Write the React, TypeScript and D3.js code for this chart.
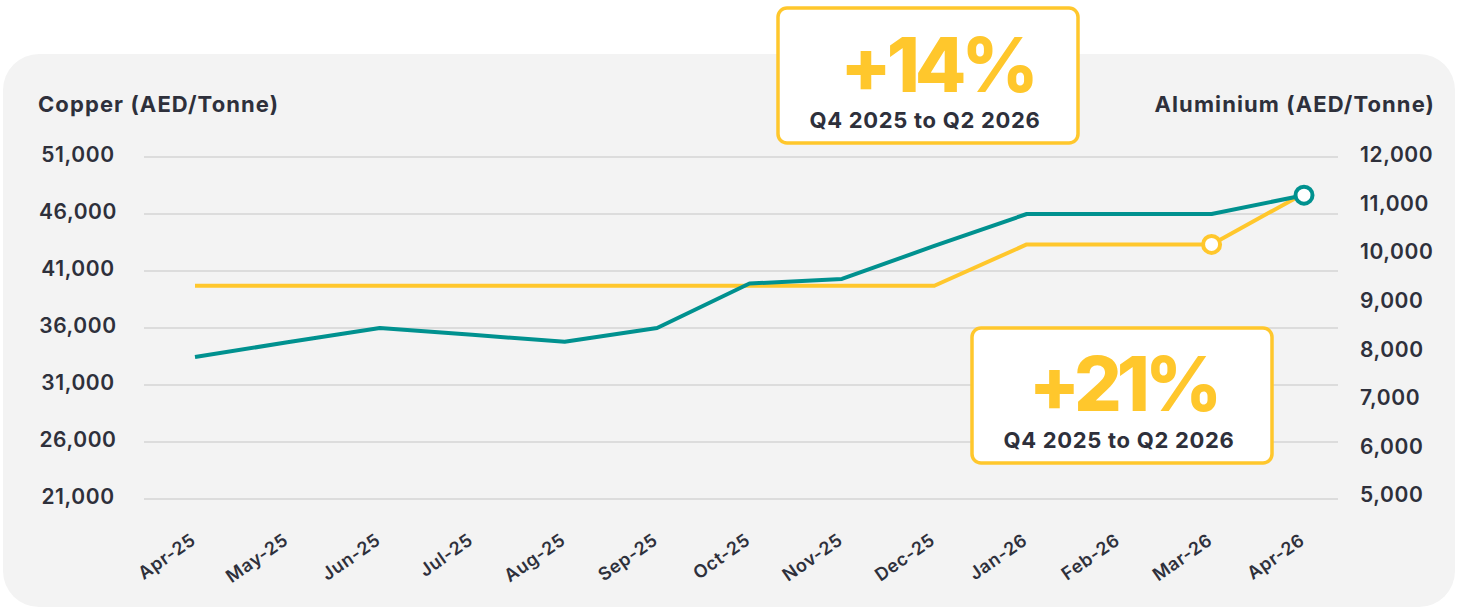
import React from "react";
import * as d3 from "d3";

const months = ["Apr-25","May-25","Jun-25","Jul-25","Aug-25","Sep-25","Oct-25","Nov-25","Dec-25","Jan-26","Feb-26","Mar-26","Apr-26"];
const copper = [33450, 34750, 36000, 35400, 34800, 36000, 39900, 40300, 43200, 46000, 46000, 46000, 47650];
const aluminium = [9350, 9350, 9350, 9350, 9350, 9350, 9350, 9350, 9350, 10200, 10200, 10200, 11250];
const copperTicks = [21000, 26000, 31000, 36000, 41000, 46000, 51000];
const aluminiumTicks = [5000, 6000, 7000, 8000, 9000, 10000, 11000, 12000];
const copperTitle = "Copper (AED/Tonne)";
const aluminiumTitle = "Aluminium (AED/Tonne)";
const callouts = [
  { value: "+14%", label: "Q4 2025 to Q2 2026" },
  { value: "+21%", label: "Q4 2025 to Q2 2026" },
];

const W = 1463, H = 608;
const TEAL = "#00918f";
const YELLOW = "#ffc72c";
const TEXT = "#2e303b";
const FONT = "Inter, 'Open Sans', sans-serif";

export default function App() {
  const x = d3.scalePoint<string>().domain(months).range([195, 1304]);
  const yL = d3.scaleLinear().domain([21000, 51000]).range([499, 157]);
  const yR = d3.scaleLinear().domain([5000, 12000]).range([497, 157]);
  const fmt = d3.format(",");

  const copperLine = d3.line<number>().x((_, i) => x(months[i])!).y((d) => yL(d));
  const aluLine = d3.line<number>().x((_, i) => x(months[i])!).y((d) => yR(d));

  const boxes = [
    { bx: 778, by: 8, w: 300, h: 135, vx: 937, vy: 92, lx: 925, ly: 128 },
    { bx: 972, by: 328, w: 300, h: 135, vx: 1123, vy: 411, lx: 1119, ly: 448 },
  ];

  return (
    <svg width={W} height={H} style={{ position: "absolute", left: 0, top: 0, background: "#fff" }} fontFamily={FONT}>
      <rect x={3} y={54} width={1452} height={553} rx={36} fill="#f3f3f3" />
      {copperTicks.map((t) => (
        <line key={"g" + t} x1={144} x2={1338} y1={yL(t)} y2={yL(t)} stroke="#dcdcdc" strokeWidth={2} />
      ))}
      <text x={38} y={112} fontSize={22} fontWeight={700} fill={TEXT} letterSpacing={1.1}>{copperTitle}</text>
      <text x={1435} y={112} fontSize={22} fontWeight={700} fill={TEXT} textAnchor="end" letterSpacing={1.1}>{aluminiumTitle}</text>
      {copperTicks.map((t) => (
        <text key={"l" + t} x={78} y={yL(t) - 2} dy="0.35em" fontSize={21} fontWeight={600} fill={TEXT} textAnchor="middle" letterSpacing={0.6}>{fmt(t)}</text>
      ))}
      {aluminiumTicks.map((t) => (
        <text key={"r" + t} x={1360} y={yR(t) - 2} dy="0.35em" fontSize={21} fontWeight={600} fill={TEXT} letterSpacing={0.6}>{fmt(t)}</text>
      ))}
      {months.map((m) => (
        <text key={m} transform={`translate(${x(m)! + 2},543) rotate(-35)`} fontSize={18} fontWeight={600} fill={TEXT} textAnchor="end" letterSpacing={0.6}>{m}</text>
      ))}
      <path d={aluLine(aluminium)!} fill="none" stroke={YELLOW} strokeWidth={4} strokeLinejoin="round" />
      <path d={copperLine(copper)!} fill="none" stroke={TEAL} strokeWidth={4} strokeLinejoin="round" />
      <circle cx={x(months[11])} cy={yR(aluminium[11])} r={8.5} fill="#fff" stroke={YELLOW} strokeWidth={4} />
      <circle cx={x(months[12])} cy={yL(copper[12])} r={8.5} fill="#fff" stroke={TEAL} strokeWidth={4} />
      {boxes.map((b, i) => (
        <g key={"c" + i}>
          <rect x={b.bx} y={b.by} width={b.w} height={b.h} rx={9} fill="#fff" stroke={YELLOW} strokeWidth={3.5} />
          <text x={b.vx} y={b.vy} fontSize={75} fontWeight={800} fill={YELLOW} textAnchor="middle" letterSpacing={-5}>{callouts[i].value}</text>
          <text x={b.lx} y={b.ly} fontSize={22} fontWeight={700} fill={TEXT} textAnchor="middle" letterSpacing={0.7}>{callouts[i].label}</text>
        </g>
      ))}
    </svg>
  );
}
